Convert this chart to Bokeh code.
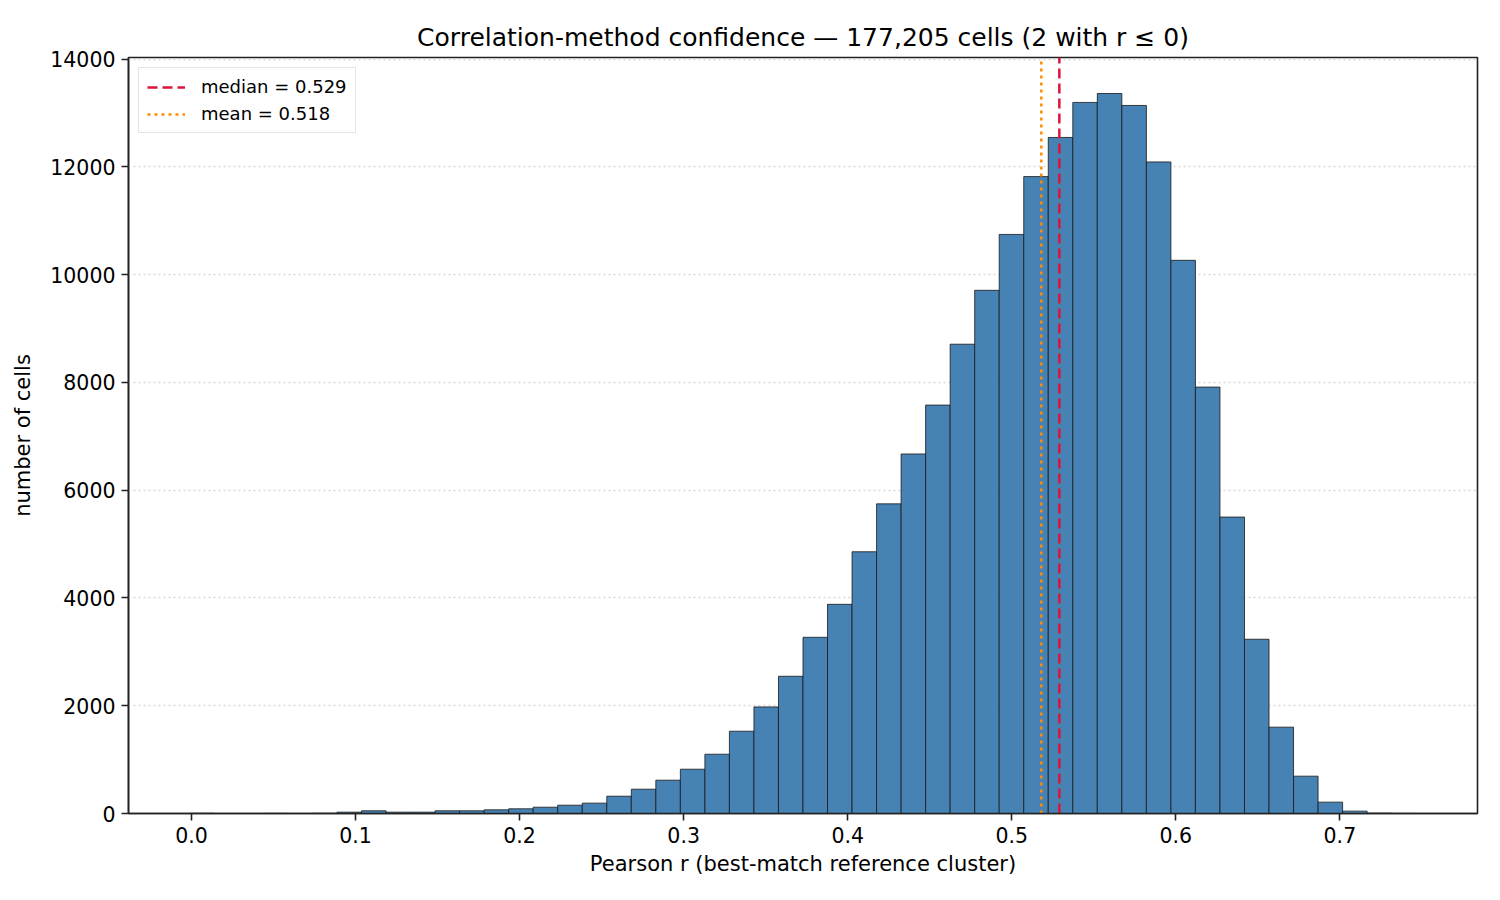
import numpy as np
from bokeh.plotting import figure
from bokeh.models import Range1d, FixedTicker, PrintfTickFormatter, Legend, LegendItem
from bokeh.embed import file_html
from bokeh.resources import INLINE

# ---- data ----
BIN_START = -0.001
BIN_END = 0.7465
counts = [3, 0, 0, 2, 0, 3, 25, 50, 25, 25,
          50, 50, 68, 87, 117, 154, 192, 321, 451, 618,
          822, 1100, 1527, 1978, 2547, 3270, 3882, 4858, 5747, 6673,
          7580, 8710, 9710, 10747, 11821, 12547, 13197, 13363, 13141, 12093,
          10267, 7914, 5502, 3234, 1602, 693, 211, 44, 5, 1]
median_r = 0.529
mean_r = 0.518
n_cells = 177205
n_nonpos = 2
x_ticks = [0.0, 0.1, 0.2, 0.3, 0.4, 0.5, 0.6, 0.7]
y_ticks = [0, 2000, 4000, 6000, 8000, 10000, 12000, 14000]

edges = np.linspace(BIN_START, BIN_END, len(counts) + 1)
span = BIN_END - BIN_START
ytop = max(counts) * 1.05

FONT = "DejaVu Sans"

p = figure(width=1492, height=888, output_backend="svg", toolbar_location=None,
           x_range=Range1d(BIN_START - 0.05 * span, BIN_END + 0.05 * span),
           y_range=Range1d(0, ytop),
           min_border_left=128, min_border_right=15, min_border_top=57, min_border_bottom=75,
           title=f"Correlation-method confidence \u2014 {n_cells:,} cells ({n_nonpos} with r \u2264 0)")

p.title.align = "center"
p.title.text_font = FONT
p.title.text_font_size = "25px"
p.title.text_font_style = "normal"
p.title.text_color = "black"
p.title.standoff = 11

p.quad(left=edges[:-1], right=edges[1:], bottom=0, top=counts,
       fill_color="#4682B4", line_color="#1a1a1a", line_width=0.9, line_alpha=0.9)

r_med = p.segment(x0=[median_r], y0=[0], x1=[median_r], y1=[ytop],
                  line_color="#DC143C", line_width=2.5, line_dash="10 5")
r_mean = p.segment(x0=[mean_r], y0=[0], x1=[mean_r], y1=[ytop],
                   line_color="#FF8C00", line_width=2.5, line_dash="3 4")

legend = Legend(items=[LegendItem(label=f"median = {median_r:.3f}", renderers=[r_med]),
                       LegendItem(label=f"mean = {mean_r:.3f}", renderers=[r_mean])],
                location="top_left")
legend.label_text_font = FONT
legend.label_text_font_size = "18px"
legend.label_text_color = "black"
legend.label_standoff = 16
legend.glyph_width = 38
legend.glyph_height = 20
legend.spacing = 6
legend.padding = 8
legend.margin = 10
legend.border_line_color = "#cccccc"
legend.border_line_width = 1.5
legend.background_fill_alpha = 0.85
p.add_layout(legend)

# axes
p.xaxis.ticker = FixedTicker(ticks=x_ticks)
p.xaxis.formatter = PrintfTickFormatter(format="%.1f")
p.yaxis.ticker = FixedTicker(ticks=y_ticks)
p.yaxis.formatter = PrintfTickFormatter(format="%d")
p.xaxis.axis_label = "Pearson r (best-match reference cluster)"
p.yaxis.axis_label = "number of cells"
for ax in (p.xaxis, p.yaxis):
    ax.axis_label_text_font = FONT
    ax.axis_label_text_font_size = "21px"
    ax.axis_label_text_font_style = "normal"
    ax.axis_label_text_color = "black"
    ax.major_label_text_font = FONT
    ax.major_label_text_font_size = "20.5px"
    ax.major_label_text_color = "black"
    ax.major_tick_out = 7
    ax.major_tick_in = 0
    ax.major_tick_line_width = 1.6
    ax.major_tick_line_color = "#222222"
    ax.minor_tick_line_color = None
    ax.axis_line_width = 1.6
    ax.axis_line_color = "#222222"
    ax.major_label_standoff = 6
p.yaxis.axis_label_standoff = 12
p.xaxis.axis_label_standoff = 6

p.xgrid.grid_line_color = None
p.ygrid.grid_line_color = "#d8d8d8"
p.ygrid.grid_line_dash = "2 3"
p.ygrid.grid_line_width = 1.4

p.outline_line_color = "#222222"
p.outline_line_width = 1.6
p.outline_line_alpha = 1.0
p.background_fill_color = "white"
p.border_fill_color = "white"

open("out.html", "w").write(file_html(p, INLINE))
